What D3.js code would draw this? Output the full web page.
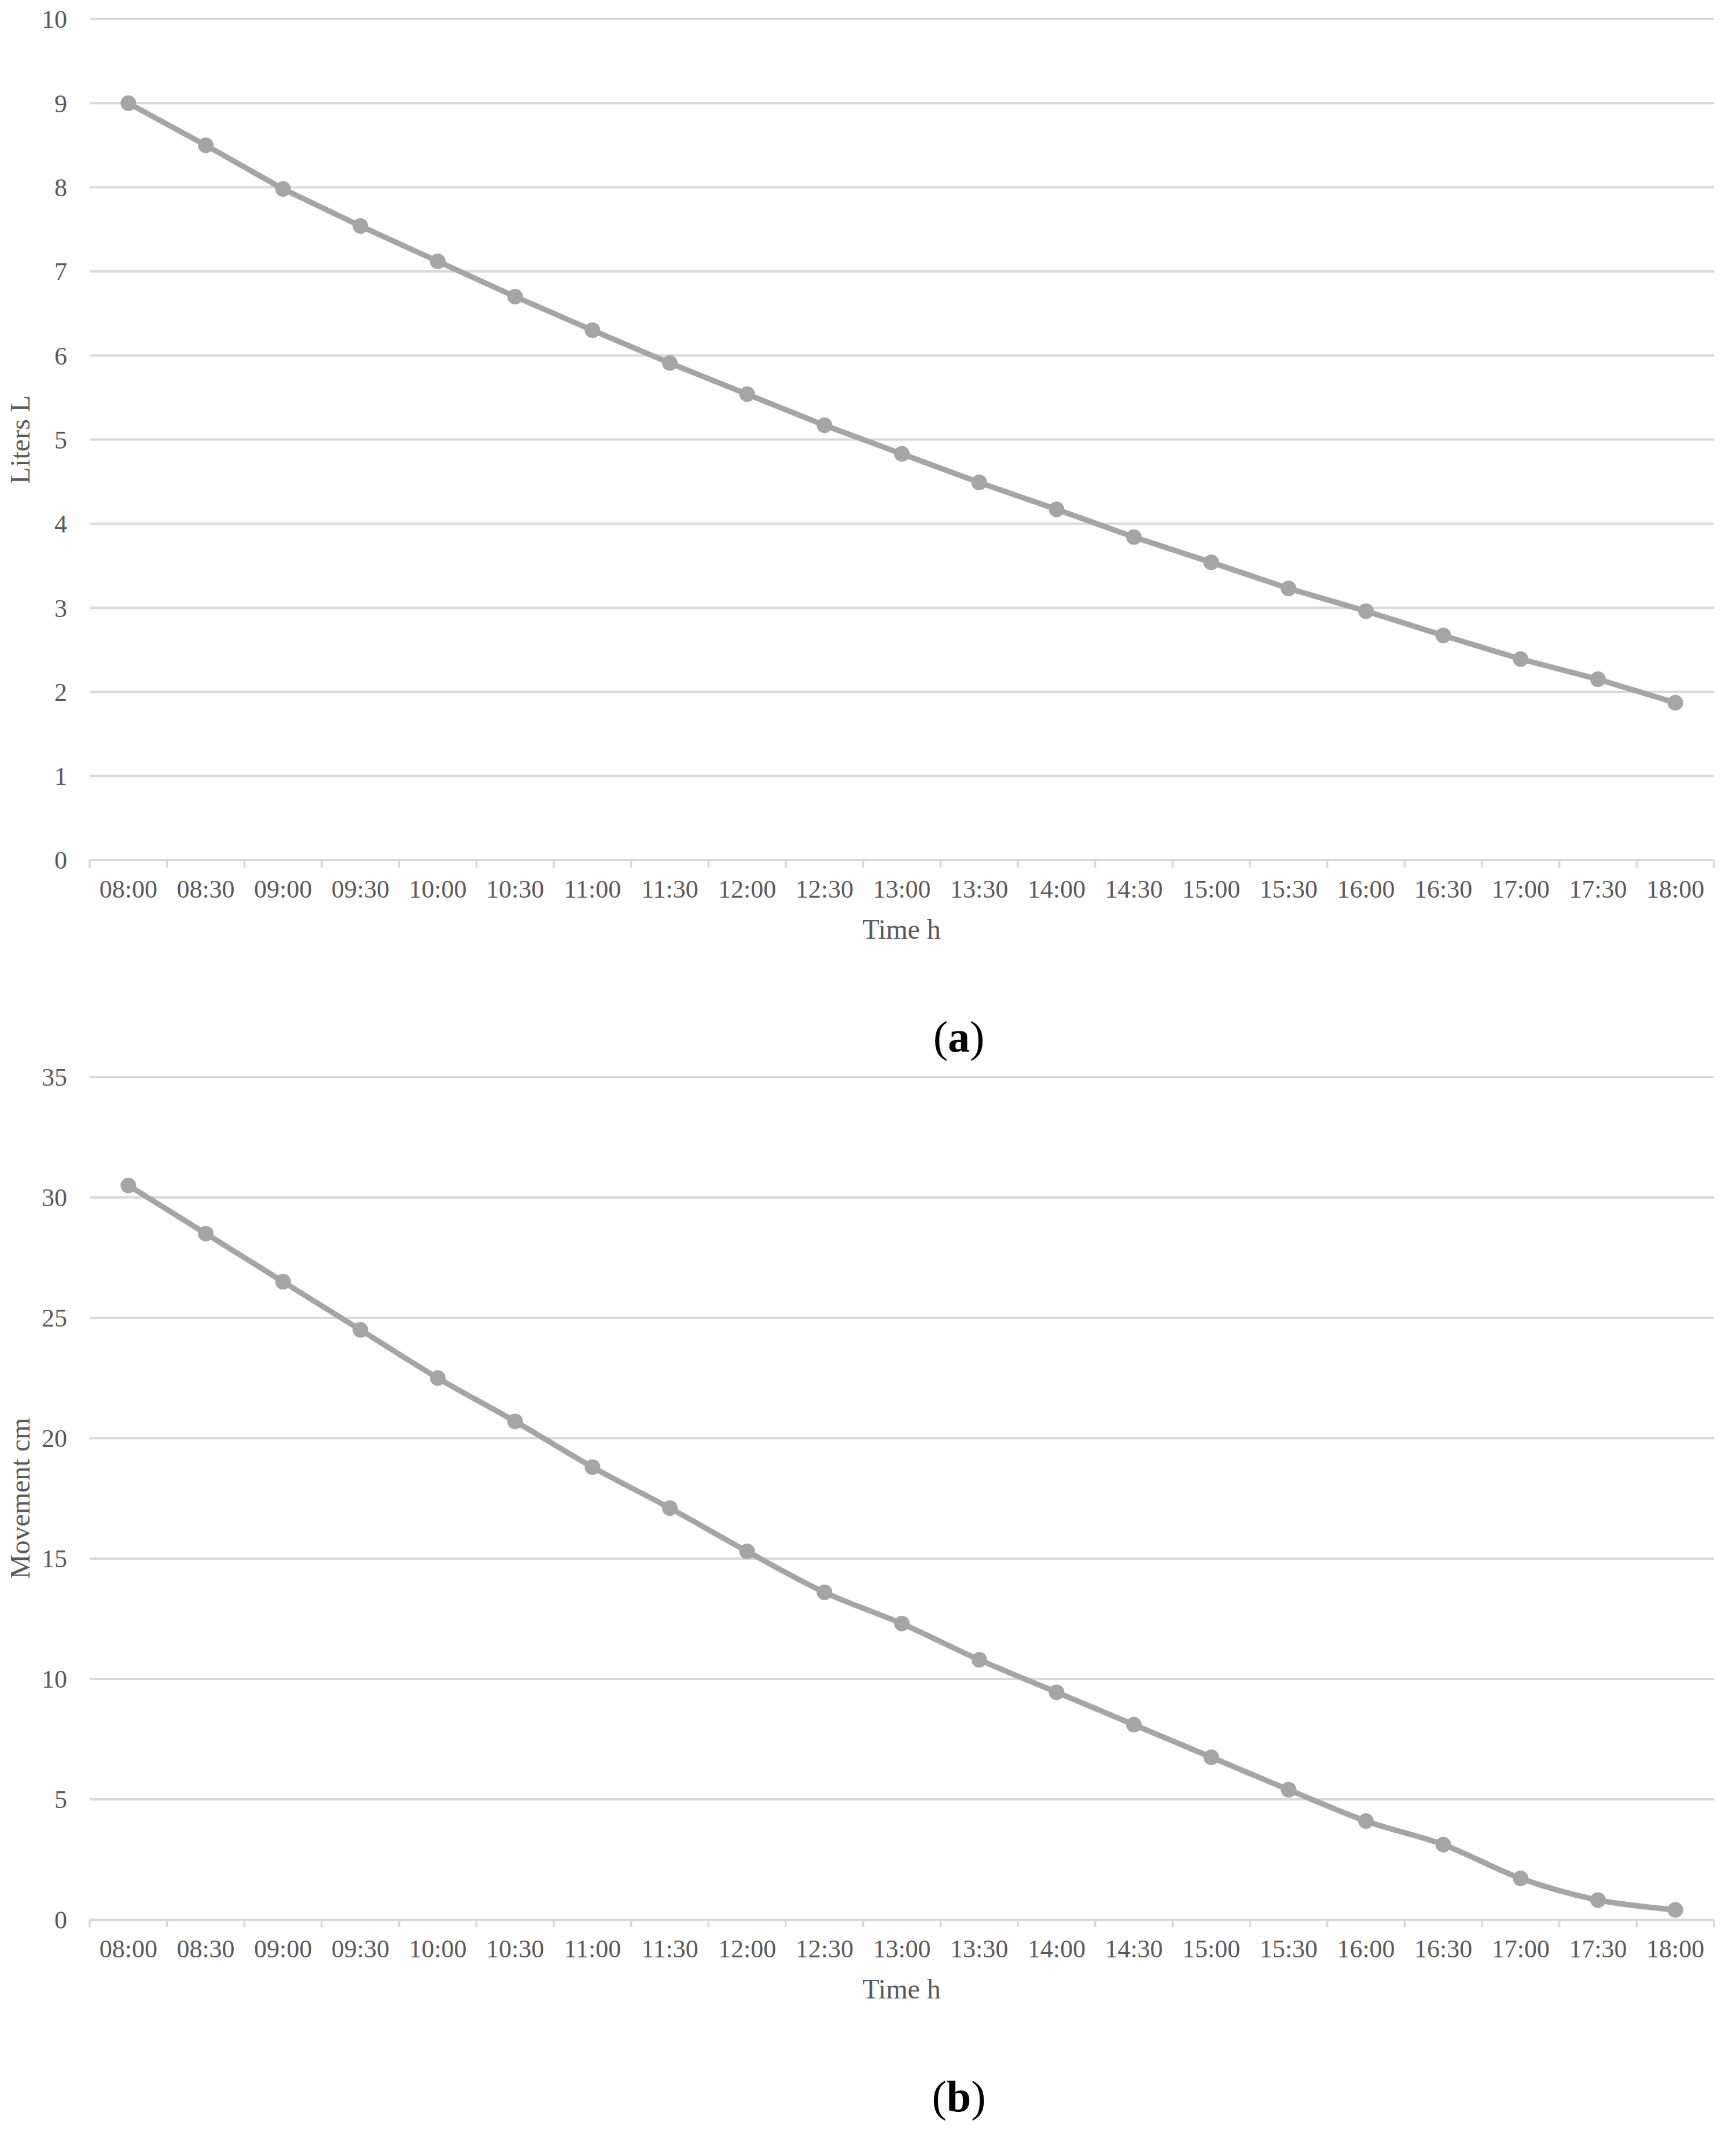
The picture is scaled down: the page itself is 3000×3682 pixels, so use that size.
<!DOCTYPE html>
<html>
<head>
<meta charset="utf-8">
<script src="https://cdn.jsdelivr.net/npm/d3@7"></script>
<style>
  html, body { margin: 0; padding: 0; background: #ffffff; }
  svg { display: block; }
</style>
</head>
<body>
<svg id="chart" width="3000" height="3682"></svg>
<script>
// ---- data ----
const times = ["08:00","08:30","09:00","09:30","10:00","10:30","11:00","11:30","12:00","12:30","13:00","13:30","14:00","14:30","15:00","15:30","16:00","16:30","17:00","17:30","18:00"];
const liters = [9.0, 8.5, 7.98, 7.54, 7.12, 6.70, 6.30, 5.91, 5.54, 5.17, 4.83, 4.49, 4.17, 3.84, 3.54, 3.23, 2.96, 2.67, 2.39, 2.15, 1.87];
const movement = [30.5, 28.5, 26.5, 24.5, 22.5, 20.7, 18.8, 17.1, 15.3, 13.6, 12.3, 10.8, 9.45, 8.1, 6.75, 5.4, 4.1, 3.12, 1.72, 0.82, 0.41];
const litersTicks = [0,1,2,3,4,5,6,7,8,9,10];
const movementTicks = [0,5,10,15,20,25,30,35];
const panelLabels = ["a", "b"];
const yTitles = ["Liters L", "Movement cm"];
const xTitle = "Time h";

const svg = d3.select("#chart");
const FONT = "'Liberation Serif', 'Times New Roman', serif";
const TEXT = "#595959";
const GRID = "#d9d9d9";
const LINE = "#a5a5a5";

function panel(cfg) {
  const g = svg.append("g");
  const x = d3.scaleBand().domain(times).range([155, 2962]).paddingInner(0).paddingOuter(0);
  const y = d3.scaleLinear().domain([0, cfg.max]).range([cfg.bottom, cfg.top]);

  // gridlines
  g.append("g").selectAll("line").data(cfg.ticks).join("line")
    .attr("x1", x.range()[0]).attr("x2", x.range()[1])
    .attr("y1", d => y(d)).attr("y2", d => y(d))
    .attr("stroke", GRID).attr("stroke-width", 4);

  // y tick labels
  const yAxis = d3.axisLeft(y).tickValues(cfg.ticks).tickSize(0).tickPadding(0);
  const ya = g.append("g").attr("transform", "translate(116,0)").call(yAxis);
  ya.select(".domain").remove();
  ya.selectAll("text").attr("font-family", FONT).attr("font-size", 44).attr("fill", TEXT)
    .attr("x", 0).attr("dy", "0.34em").attr("text-anchor", "end");

  // x axis ticks at band boundaries
  const bounds = times.map(t => x(t)).concat([x.range()[1]]);
  g.append("g").selectAll("line").data(bounds).join("line")
    .attr("x1", d => d).attr("x2", d => d)
    .attr("y1", cfg.bottom).attr("y2", cfg.bottom + 13)
    .attr("stroke", GRID).attr("stroke-width", 3.5);

  // x tick labels
  const xAxis = d3.axisBottom(x).tickSize(0).tickPadding(0);
  const xa = g.append("g").attr("transform", `translate(0,${cfg.bottom})`).call(xAxis);
  xa.select(".domain").remove();
  xa.selectAll("text").attr("font-family", FONT).attr("font-size", 44).attr("fill", TEXT)
    .attr("y", 65).attr("dy", 0);

  // axis titles
  g.append("text").attr("x", 1558).attr("y", cfg.bottom + 136)
    .attr("text-anchor", "middle").attr("font-family", FONT).attr("font-size", 48)
    .attr("fill", TEXT).text(xTitle);
  g.append("text")
    .attr("transform", `translate(51,${(cfg.top + cfg.bottom) / 2}) rotate(-90)`)
    .attr("text-anchor", "middle").attr("font-family", FONT).attr("font-size", 48)
    .attr("fill", TEXT).text(cfg.ytitle);

  // line
  const cx = d => x(d.t) + x.bandwidth() / 2;
  const pts = times.map((t, i) => ({ t, v: cfg.values[i] }));
  const lineGen = d3.line().x(cx).y(d => y(d.v)).curve(cfg.curve);
  g.append("path").datum(pts).attr("d", lineGen)
    .attr("fill", "none").attr("stroke", LINE).attr("stroke-width", 9.5)
    .attr("stroke-linejoin", "round").attr("stroke-linecap", "round");
  g.append("g").selectAll("circle").data(pts).join("circle")
    .attr("cx", cx).attr("cy", d => y(d.v)).attr("r", 13.5).attr("fill", LINE);

  // panel caption
  const cap = g.append("text").attr("x", 1657).attr("y", cfg.bottom + 331)
    .attr("text-anchor", "middle").attr("font-family", FONT).attr("font-size", 76)
    .attr("fill", "#000");
  cap.append("tspan").text("(");
  cap.append("tspan").attr("font-weight", "bold").text(cfg.label);
  cap.append("tspan").text(")");
}

panel({ top: 33, bottom: 1486, max: 10, ticks: litersTicks, values: liters,
        ytitle: yTitles[0], label: panelLabels[0], curve: d3.curveLinear });
panel({ top: 1861, bottom: 3317, max: 35, ticks: movementTicks, values: movement,
        ytitle: yTitles[1], label: panelLabels[1], curve: d3.curveCatmullRom.alpha(0) });
</script>
</body>
</html>
